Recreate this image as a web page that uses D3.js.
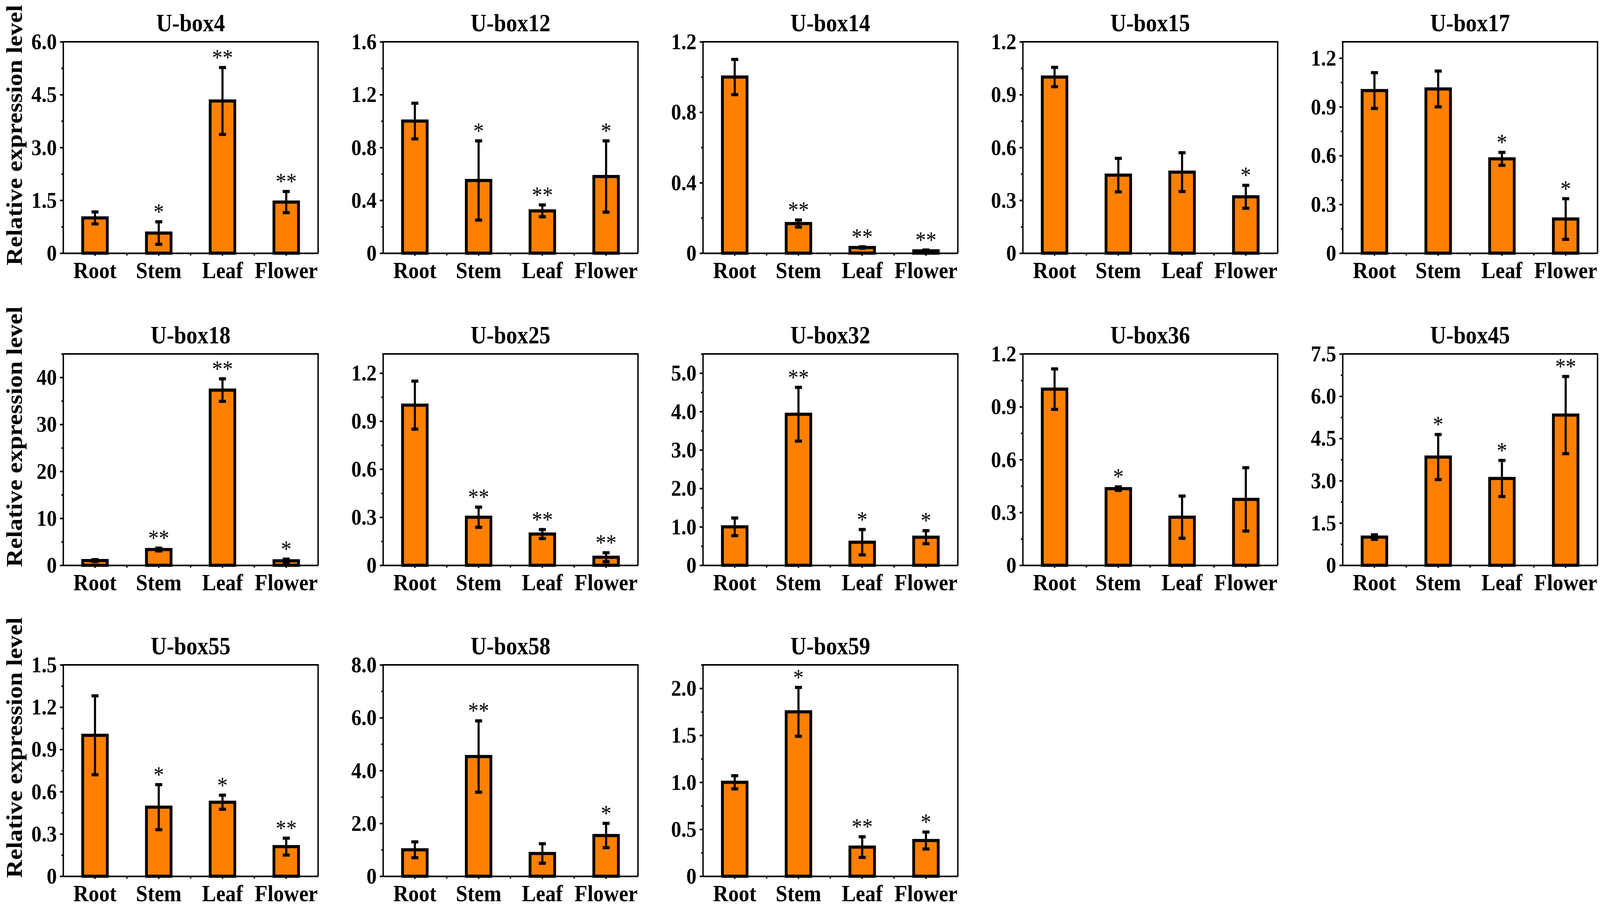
<!DOCTYPE html>
<html>
<head>
<meta charset="utf-8">
<script src="https://cdn.jsdelivr.net/npm/d3@7"></script>
<style>
  html, body { margin: 0; padding: 0; background: #fff; overflow: hidden; }
  svg { display: block; }
  text { font-family: 'Liberation Serif', 'Times New Roman', serif; }
</style>
</head>
<body>
<svg id="chart"></svg>
<script>
// tissues on the x axis
const categories = ['Root', 'Stem', 'Leaf', 'Flower'];

const genes = ['U-box4', 'U-box12', 'U-box14', 'U-box15', 'U-box17',
  'U-box18', 'U-box25', 'U-box32', 'U-box36', 'U-box45',
  'U-box55', 'U-box58', 'U-box59'];

// mean relative expression (Root, Stem, Leaf, Flower)
const meanValues = [
  [1.0, 0.57, 4.32, 1.45],
  [1.0, 0.55, 0.32, 0.58],
  [1.0, 0.168, 0.032, 0.013],
  [1.0, 0.443, 0.46, 0.32],
  [1.0, 1.01, 0.58, 0.21],
  [1.0, 3.35, 37.3, 0.95],
  [1.0, 0.30, 0.195, 0.05],
  [1.0, 3.93, 0.60, 0.73],
  [1.0, 0.435, 0.273, 0.374],
  [1.0, 3.84, 3.08, 5.33],
  [1.0, 0.49, 0.525, 0.21],
  [1.0, 4.53, 0.86, 1.54],
  [1.0, 1.75, 0.31, 0.38]
];

// standard deviation
const errorValues = [
  [0.17, 0.32, 0.95, 0.30],
  [0.135, 0.30, 0.045, 0.27],
  [0.10, 0.02, 0.004, 0.005],
  [0.055, 0.095, 0.11, 0.065],
  [0.11, 0.11, 0.04, 0.125],
  [0.2, 0.3, 2.4, 0.35],
  [0.15, 0.063, 0.028, 0.028],
  [0.23, 0.70, 0.33, 0.17],
  [0.115, 0.01, 0.12, 0.18],
  [0.08, 0.80, 0.64, 1.37],
  [0.28, 0.16, 0.05, 0.06],
  [0.30, 1.35, 0.37, 0.46],
  [0.07, 0.26, 0.11, 0.09]
];

// significance marks
const significance = [
  ['', '*', '**', '**'],
  ['', '*', '**', '*'],
  ['', '**', '**', '**'],
  ['', '', '', '*'],
  ['', '', '*', '*'],
  ['', '**', '**', '*'],
  ['', '**', '**', '**'],
  ['', '**', '*', '*'],
  ['', '*', '', ''],
  ['', '*', '*', '**'],
  ['', '*', '*', '**'],
  ['', '**', '', '*'],
  ['', '*', '**', '*']
];

// y axis upper limit per panel
const yMax = [6, 1.6, 1.2, 1.2, 1.3, 45, 1.32, 5.5, 1.2, 7.5, 1.5, 8, 2.25];

// y tick labels per panel
const yTickLabels = [
  ['0', '1.5', '3.0', '4.5', '6.0'],
  ['0', '0.4', '0.8', '1.2', '1.6'],
  ['0', '0.4', '0.8', '1.2'],
  ['0', '0.3', '0.6', '0.9', '1.2'],
  ['0', '0.3', '0.6', '0.9', '1.2'],
  ['0', '10', '20', '30', '40'],
  ['0', '0.3', '0.6', '0.9', '1.2'],
  ['0', '1.0', '2.0', '3.0', '4.0', '5.0'],
  ['0', '0.3', '0.6', '0.9', '1.2'],
  ['0', '1.5', '3.0', '4.5', '6.0', '7.5'],
  ['0', '0.3', '0.6', '0.9', '1.2', '1.5'],
  ['0', '2.0', '4.0', '6.0', '8.0'],
  ['0', '0.5', '1.0', '1.5', '2.0']
];

const yTitle = 'Relative expression level';

// layout, in reference pixels
const W = 4562, H = 2350;
const colX = [180, 1092, 2004, 2916, 3828];
const rowY = [107, 906, 1702];
const yTitleY = [346, 1118, 1914];
const plotW = 727, plotH = 541;
const barColor = '#FF8000';

// the real window can be narrower than the reference, so stretch the drawing to fill it
const svg = d3.select('#chart')
  .attr('viewBox', `0 0 ${W} ${H}`)
  .attr('preserveAspectRatio', 'none')
  .style('width', '100vw')
  .style('height', '100vh');

svg.append('rect').attr('width', W).attr('height', H).attr('fill', '#fff');

// y titles, one per row
yTitleY.forEach(cy => {
  svg.append('text')
    .attr('transform', `translate(62,${cy}) rotate(-90)`)
    .attr('text-anchor', 'middle')
    .attr('font-size', 64)
    .attr('font-weight', 'bold')
    .text(yTitle);
});

genes.forEach((gene, i) => {
  const left = colX[i % 5];
  const top = rowY[Math.floor(i / 5)];

  const g = svg.append('g')
    .attr('transform', `translate(${left},${top})`);

  const x = d3.scaleBand()
    .domain(categories)
    .range([0, plotW]);

  const y = d3.scaleLinear()
    .domain([0, yMax[i]])
    .range([plotH, 0]);

  const rows = categories.map((c, j) => ({
    key: c,
    value: meanValues[i][j],
    err: errorValues[i][j],
    mark: significance[i][j]
  }));

  const cx = d => x(d.key) + x.bandwidth() / 2;
  const barW = x.bandwidth() * 0.43 - 8;

  // bars
  g.selectAll('.bar')
    .data(rows)
    .join('rect')
    .attr('class', 'bar')
    .attr('x', d => cx(d) - barW / 2)
    .attr('width', barW)
    .attr('y', d => y(d.value))
    .attr('height', d => y(0) - y(d.value))
    .attr('fill', barColor)
    .attr('stroke', '#000')
    .attr('stroke-width', 8);

  // error bars
  g.selectAll('.err')
    .data(rows)
    .join('line')
    .attr('class', 'err')
    .attr('x1', cx).attr('x2', cx)
    .attr('y1', d => y(d.value - d.err))
    .attr('y2', d => y(d.value + d.err))
    .attr('stroke', '#000')
    .attr('stroke-width', 6);

  const caps = rows.flatMap(d => [
    { d, v: d.value + d.err },
    { d, v: d.value - d.err }
  ]);
  g.selectAll('.cap')
    .data(caps)
    .join('line')
    .attr('class', 'cap')
    .attr('x1', c => cx(c.d) - 10)
    .attr('x2', c => cx(c.d) + 10)
    .attr('y1', c => y(c.v))
    .attr('y2', c => y(c.v))
    .attr('stroke', '#000')
    .attr('stroke-width', 8);

  // significance stars
  g.selectAll('.star')
    .data(rows.filter(d => d.mark))
    .join('text')
    .attr('class', 'star')
    .attr('x', cx)
    .attr('y', d => y(d.value + d.err) - 6)
    .attr('text-anchor', 'middle')
    .attr('font-size', 60)
    .text(d => d.mark);

  // frame: top and right
  g.append('line')
    .attr('x1', -2).attr('x2', plotW + 2)
    .attr('y1', 0).attr('y2', 0)
    .attr('stroke', '#000').attr('stroke-width', 4);
  g.append('line')
    .attr('x1', plotW).attr('x2', plotW)
    .attr('y1', 0).attr('y2', plotH)
    .attr('stroke', '#000').attr('stroke-width', 4);

  // y axis
  const ticks = yTickLabels[i].map(Number);
  const step = ticks[1] - ticks[0];
  const minor = ticks.map(t => t + step / 2).filter(t => t <= yMax[i] + 1e-9);

  const yMinor = g.append('g')
    .call(d3.axisLeft(y).tickValues(minor).tickSize(5).tickFormat(''));
  yMinor.select('.domain').remove();
  yMinor.selectAll('line').attr('stroke-width', 4);

  const yAxisG = g.append('g')
    .call(d3.axisLeft(y)
      .tickValues(ticks)
      .tickSize(9)
      .tickSizeOuter(0)
      .tickPadding(9)
      .tickFormat((d, k) => yTickLabels[i][k]));
  yAxisG.select('.domain').attr('stroke-width', 4);
  yAxisG.selectAll('line').attr('stroke-width', 4);
  yAxisG.selectAll('text')
    .attr('font-size', 58)
    .attr('font-weight', 'bold')
    .attr('fill', '#000');

  // x axis
  const xAxisG = g.append('g')
    .attr('transform', `translate(0,${plotH})`)
    .call(d3.axisBottom(x).tickSize(7).tickSizeOuter(0));
  xAxisG.select('.domain').attr('stroke-width', 4);
  xAxisG.selectAll('line').attr('stroke-width', 4);
  xAxisG.selectAll('text')
    .attr('dy', null)
    .attr('y', 64)
    .attr('font-size', 60)
    .attr('font-weight', 'bold')
    .attr('fill', '#000');

  // minor x ticks between tissues
  xAxisG.selectAll('.minor')
    .data(categories.slice(1))
    .join('line')
    .attr('class', 'minor')
    .attr('x1', d => x(d)).attr('x2', d => x(d))
    .attr('y1', 0).attr('y2', 6)
    .attr('stroke', '#000')
    .attr('stroke-width', 4);

  // panel title
  g.append('text')
    .attr('x', plotW / 2)
    .attr('y', -27)
    .attr('text-anchor', 'middle')
    .attr('font-size', 63)
    .attr('font-weight', 'bold')
    .text(gene);
});
</script>
</body>
</html>
